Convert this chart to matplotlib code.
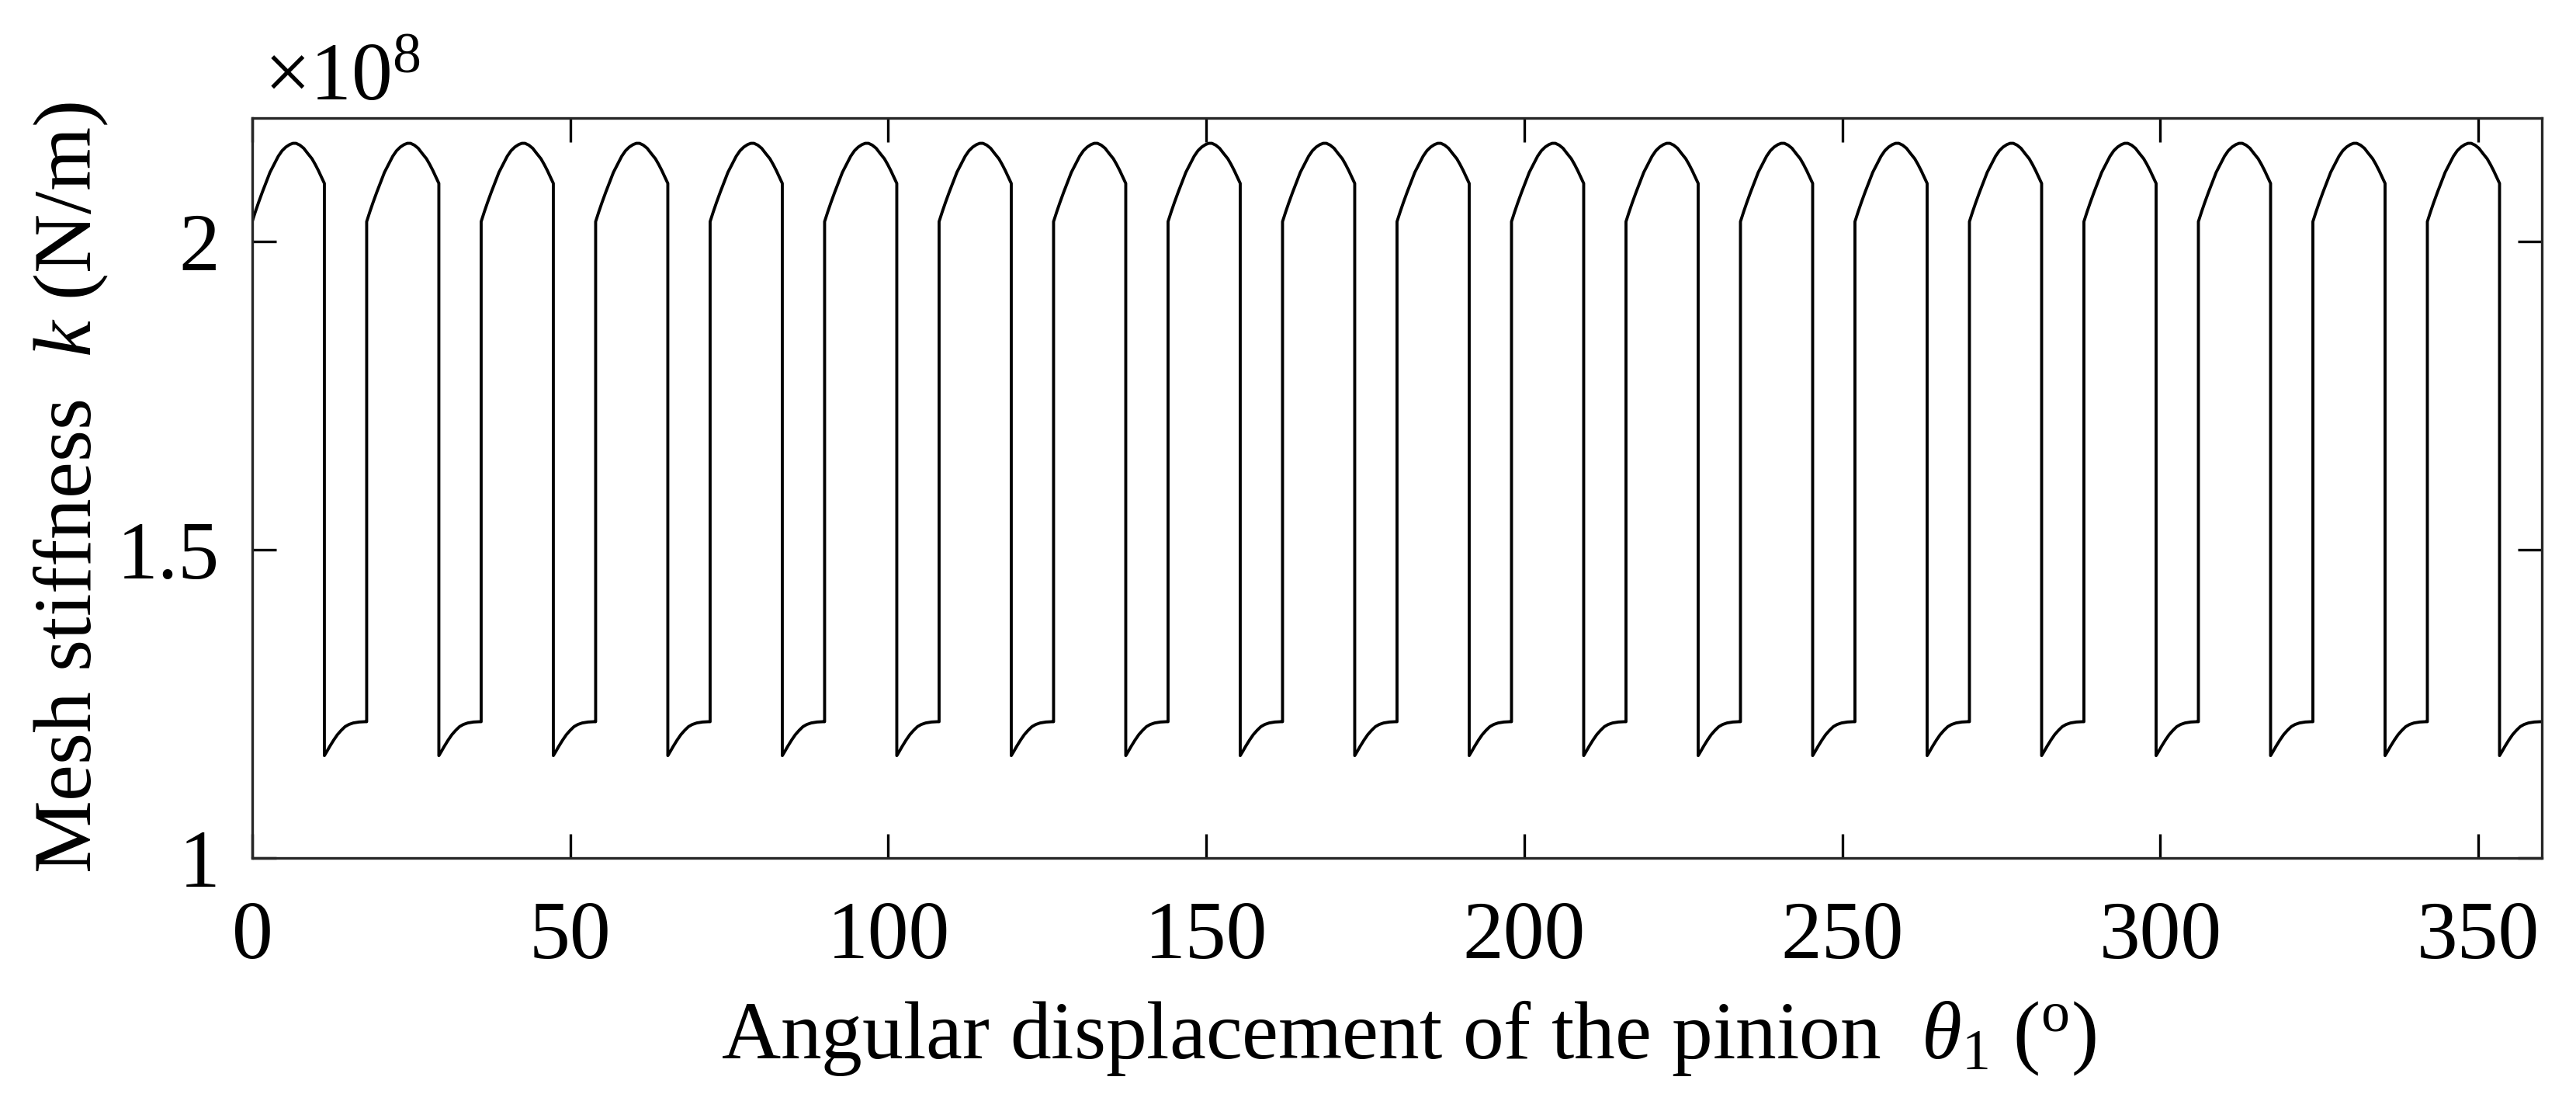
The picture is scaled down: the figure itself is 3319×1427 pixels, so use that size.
import matplotlib
matplotlib.use("Agg")
import matplotlib.pyplot as plt
import numpy as np

# ---- data ----
# start angle of each mesh period (deg)
tooth_starts = [0, 18, 36, 54, 72, 90, 108, 126, 144, 162,
                180, 198, 216, 234, 252, 270, 288, 306, 324, 342]
# one mesh period: angle offset within the period (deg) and stiffness (x1e8 N/m)
period_offsets = [0.0, 0.5, 1.0, 1.6, 2.2, 2.8, 3.5, 4.1, 4.7, 5.3, 5.9, 6.4, 6.9, 7.5,
                  8.1, 8.7, 9.4, 9.9, 10.4, 10.9, 11.35,
                  11.35, 11.7, 12.2, 12.8, 13.4, 14.0, 14.6, 15.2, 15.9, 16.8, 17.7, 18.0]
period_values = [2.032, 2.048, 2.063, 2.080, 2.096, 2.112, 2.126, 2.138, 2.147, 2.153, 2.157, 2.159, 2.159, 2.156,
                 2.151, 2.143, 2.134, 2.125, 2.115, 2.104, 2.094,
                 1.166, 1.172, 1.181, 1.191, 1.200, 1.207, 1.213, 1.2165, 1.219, 1.2205, 1.221, 1.221]

x_ticks = [0, 50, 100, 150, 200, 250, 300, 350]
y_ticks = [1, 1.5, 2]
y_tick_labels = ["1", "1.5", "2"]

# build the full curve from the repeated period
theta = np.concatenate([np.asarray(period_offsets) + s for s in tooth_starts])
k = np.tile(np.asarray(period_values), len(tooth_starts))

plt.rcParams['font.family'] = ['Liberation Serif', 'DejaVu Serif']
plt.rcParams['mathtext.fontset'] = 'custom'
plt.rcParams['mathtext.rm'] = 'Liberation Serif'
plt.rcParams['mathtext.it'] = 'Liberation Serif:italic'
plt.rcParams['mathtext.bf'] = 'Liberation Serif:bold'

FS = 76

fig = plt.figure(figsize=(33.19, 14.27), dpi=100)
ax = fig.add_axes([0.0979, 0.22565, 0.98674 - 0.0979, 0.89348 - 0.22565])

ax.plot(theta, k, color='black', linewidth=2.8, solid_joinstyle='round')

ax.set_xlim(0, 360)
ax.set_ylim(1, 2.2)
ax.set_xticks(x_ticks)
ax.set_xticklabels([str(v) for v in x_ticks])
ax.set_yticks(y_ticks)
ax.set_yticklabels(y_tick_labels)

for sp in ax.spines.values():
    sp.set_linewidth(2.4)
    sp.set_color('#262626')

ax.tick_params(axis='both', which='major', direction='in', length=22, width=2.4,
               top=True, right=True, labelsize=FS, colors='black')
ax.tick_params(axis='x', pad=40)
ax.tick_params(axis='y', pad=30)

ax.text(0.005, 1.025, r'$\times10^{8}$', transform=ax.transAxes, fontsize=FS,
        ha='left', va='baseline')

ax.set_ylabel(r'Mesh stiffness  $k$ (N/m)', fontsize=FS)
ax.yaxis.set_label_coords(-0.062, 0.5)
ax.set_xlabel(r'Angular displacement of the pinion  $\theta_1$ ($^{\rm o}$)', fontsize=FS)
ax.xaxis.set_label_coords(0.505, -0.19)

fig.savefig('out.png', dpi=100)
